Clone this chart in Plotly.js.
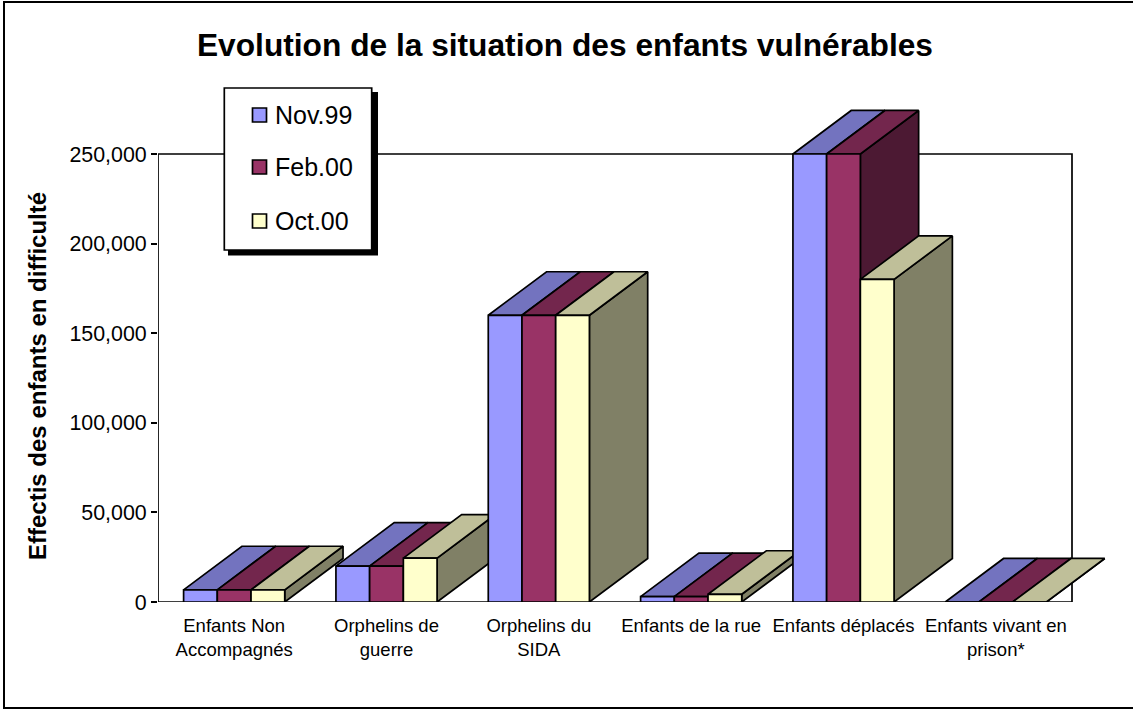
<!DOCTYPE html>
<html>
<head>
<meta charset="utf-8">
<script src="https://cdn.plot.ly/plotly-3.0.1.min.js"></script>
<style>html,body{margin:0;padding:0;background:#fff;overflow:hidden}</style>
</head>
<body>
<div id="chart" style="width:1133px;height:709px"></div>
<script>
const categories = ["Enfants Non<br>Accompagnés", "Orphelins de<br>guerre", "Orphelins du<br>SIDA", "Enfants de la rue", "Enfants déplacés", "Enfants vivant en<br>prison*"];
const seriesNames = ["Nov.99", "Feb.00", "Oct.00"];
const nov99 = [6800, 20000, 160000, 3000, 250000, 0];
const feb00 = [6800, 20000, 160000, 3000, 250000, 0];
const oct00 = [6800, 24500, 160000, 4300, 180000, 0];
const frontColors = ["#9999FF", "#993366", "#FFFFCC"];
const topColors = ["#7373BF", "#73264D", "#BFBF99"];
const sideColors = ["#4C4C80", "#4C1933", "#808066"];
const yTicks = [0, 50000, 100000, 150000, 200000, 250000];

const W = 1133, H = 709, L = 158, R = 1072, T = 154, B = 602;
const plotTop = 90, plotRight = 1115;
const FONT = '"Liberation Sans", Arial, sans-serif';
const series = [nov99, feb00, oct00];
const barW = 0.2213, depthX = 0.3827, depthY = 24300;
const catPx = (R - L) / 6, valPx = (B - T) / 250000;
const xMax = (plotRight - L) / catPx - 0.5, yMax = (B - plotTop) / valPx;
const px = v => (v - L) / (plotRight - L);
const py = v => (B - v) / (B - plotTop);

function face(xs, ys, color) {
  return {type: "scatter", mode: "lines", x: xs.concat(xs[0]), y: ys.concat(ys[0]), fill: "toself",
    fillcolor: color, line: {color: "#000", width: 1.7, simplify: false}, hoverinfo: "skip",
    showlegend: false};
}

const traces = [{type: "scatter", mode: "lines", x: [-0.5, 5.5, 5.5, -0.5, -0.5], y: [0, 0, 250000, 250000, 0],
  line: {color: "#000", width: 1.7}, hoverinfo: "skip", showlegend: false}];

categories.forEach((c, i) => {
  series.forEach((vals, s) => {
    const x0 = i - 1.5 * barW + s * barW, x1 = x0 + barW, v = vals[i];
    traces.push(face([x1, x1 + depthX, x1 + depthX, x1], [0, depthY, v + depthY, v], sideColors[s]));
    traces.push(face([x0, x1, x1 + depthX, x0 + depthX], [v, v, v + depthY, v + depthY], topColors[s]));
    traces.push(face([x0, x1, x1, x0], [0, 0, v, v], frontColors[s]));
  });
});

const shapes = [
  {type: "path", xref: "paper", yref: "paper", layer: "below", line: {color: "#000", width: 2},
   path: `M${px(W + 5)},${py(2)} L${px(4)},${py(2)} L${px(4)},${py(708)} L${px(W + 5)},${py(708)}`},
  {type: "rect", xref: "paper", yref: "paper", layer: "above", fillcolor: "#000", line: {width: 0},
   x0: px(228), x1: px(378), y0: py(92), y1: py(255.5)},
  {type: "rect", xref: "paper", yref: "paper", layer: "above", fillcolor: "#fff", line: {color: "#000", width: 1.7},
   x0: px(224.3), x1: px(371.7), y0: py(88), y1: py(250)}
];
const keyY = [115, 167, 221];
const annotations = [{xref: "paper", yref: "paper", x: px(37.5), y: py(376.5), xanchor: "center", yanchor: "middle",
  textangle: -90, text: "<b>Effectis des enfants en difficulté</b>", showarrow: false,
  font: {family: FONT, size: 24, color: "#000"}}];
seriesNames.forEach((n, s) => {
  shapes.push({type: "rect", xref: "paper", yref: "paper", layer: "above", fillcolor: frontColors[s],
    line: {color: "#000", width: 1.7}, x0: px(252.5), x1: px(266.5), y0: py(keyY[s] - 7), y1: py(keyY[s] + 7)});
  annotations.push({xref: "paper", yref: "paper", x: px(274), y: py(keyY[s]), xanchor: "left", yanchor: "middle",
    text: n, showarrow: false, font: {family: FONT, size: 25, color: "#000"}, borderpad: 0});
});

const layout = {
  width: W, height: H,
  margin: {l: L, r: W - plotRight, t: plotTop, b: H - B, pad: 0},
  paper_bgcolor: "#fff", plot_bgcolor: "rgba(0,0,0,0)",
  showlegend: false,
  title: {text: "<b>Evolution de la situation des enfants vulnérables</b>", x: 565 / W, xanchor: "center",
    y: 1 - 45 / H, yanchor: "middle", font: {family: FONT, size: 31.7, color: "#000"}},
  xaxis: {range: [-0.5, xMax], tickmode: "array", tickvals: categories.map((c, i) => i), ticktext: categories,
    ticks: "", showgrid: false, zeroline: false, showline: false, tickangle: 0, ticklabelstandoff: 10,
    automargin: false, tickfont: {family: FONT, size: 18.5, color: "#000"}},
  yaxis: {range: [0, yMax], tickmode: "array", tickvals: yTicks, tickformat: ",d", ticks: "outside", ticklen: 6,
    tickwidth: 1.7, tickcolor: "#000", showgrid: false, zeroline: false, showline: false, automargin: false,
    tickfont: {family: FONT, size: 21.4, color: "#000"}},
  shapes, annotations
};
Plotly.newPlot("chart", traces, layout, {displayModeBar: false, responsive: false});
</script>
</body>
</html>
